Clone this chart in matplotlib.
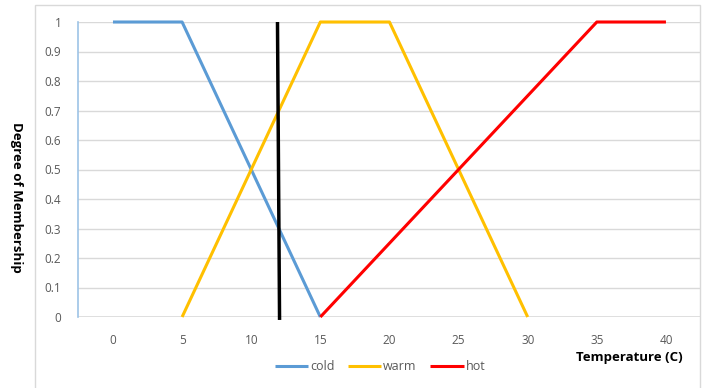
import matplotlib
matplotlib.use("Agg")
import matplotlib.pyplot as plt
from matplotlib.patches import Rectangle

cold_x = [0, 5, 15]
cold_y = [1, 1, 0]
warm_x = [5, 15, 20, 30]
warm_y = [0, 1, 1, 0]
hot_x = [15, 35, 40]
hot_y = [0, 1, 1]
marker_x = [11.9, 12.05]
marker_y = [1.0, -0.01]
x_ticks = [0, 5, 10, 15, 20, 25, 30, 35, 40]
y_ticks = [0, 0.1, 0.2, 0.3, 0.4, 0.5, 0.6, 0.7, 0.8, 0.9, 1]
y_labels = ["0", "0.1", "0.2", "0.3", "0.4", "0.5", "0.6", "0.7", "0.8", "0.9", "1"]

plt.rcParams['font.family'] = ['Open Sans', 'DejaVu Sans']
fig = plt.figure(figsize=(7.08, 3.88), dpi=100)
fig.patches.append(Rectangle((35/708, -0.1), (700-35)/708, 1.1 - 5/388,
                             transform=fig.transFigure, fill=False,
                             edgecolor='#d9d9d9', linewidth=1))
ax = fig.add_axes([78/708, 1-317/388, (700.5-78)/708, (317-22)/388])
ax.set_xlim(-2.53, 42.5)
ax.set_ylim(0, 1)
for y in y_ticks:
    ax.axhline(y, color='#d9d9d9', linewidth=1.2 if y == 0 else 1, zorder=0)
for s in ['top', 'right', 'bottom']:
    ax.spines[s].set_visible(False)
ax.spines['left'].set_color('#9dc3e6')
ax.spines['left'].set_linewidth(1.2)

ax.plot(cold_x, cold_y, color='#5b9bd5', lw=2.2, label='cold', clip_on=False, solid_capstyle='butt')
ax.plot(warm_x, warm_y, color='#ffc000', lw=2.2, label='warm', clip_on=False, solid_capstyle='butt')
ax.plot(hot_x, hot_y, color='#ff0000', lw=2.2, label='hot', clip_on=False, solid_capstyle='butt')
ax.plot(marker_x, marker_y, color='black', lw=2.5, clip_on=False, solid_capstyle='butt')

ax.set_xticks(x_ticks)
ax.set_yticks(y_ticks)
ax.set_yticklabels(y_labels)
ax.tick_params(axis='both', length=0, labelsize=8.5, labelcolor='#595959')
ax.tick_params(axis='x', pad=12)
ax.tick_params(axis='y', pad=12)

fig.text(629/708, 1-357/388, 'Temperature (C)', ha='center', va='center',
         fontsize=9.5, fontweight='bold', color='black')
fig.text(16/708, 1-197/388, 'Degree of Membership', ha='center', va='center',
         rotation=-90, fontsize=9.5, fontweight='bold', color='black')

leg = fig.legend(loc='center', bbox_to_anchor=(380/708, 1-367/388), ncol=3,
                 frameon=False, fontsize=9, handlelength=2.65, columnspacing=1.1,
                 handletextpad=0.15)
for t in leg.get_texts():
    t.set_color('#595959')

fig.savefig('out.png', dpi=100)
